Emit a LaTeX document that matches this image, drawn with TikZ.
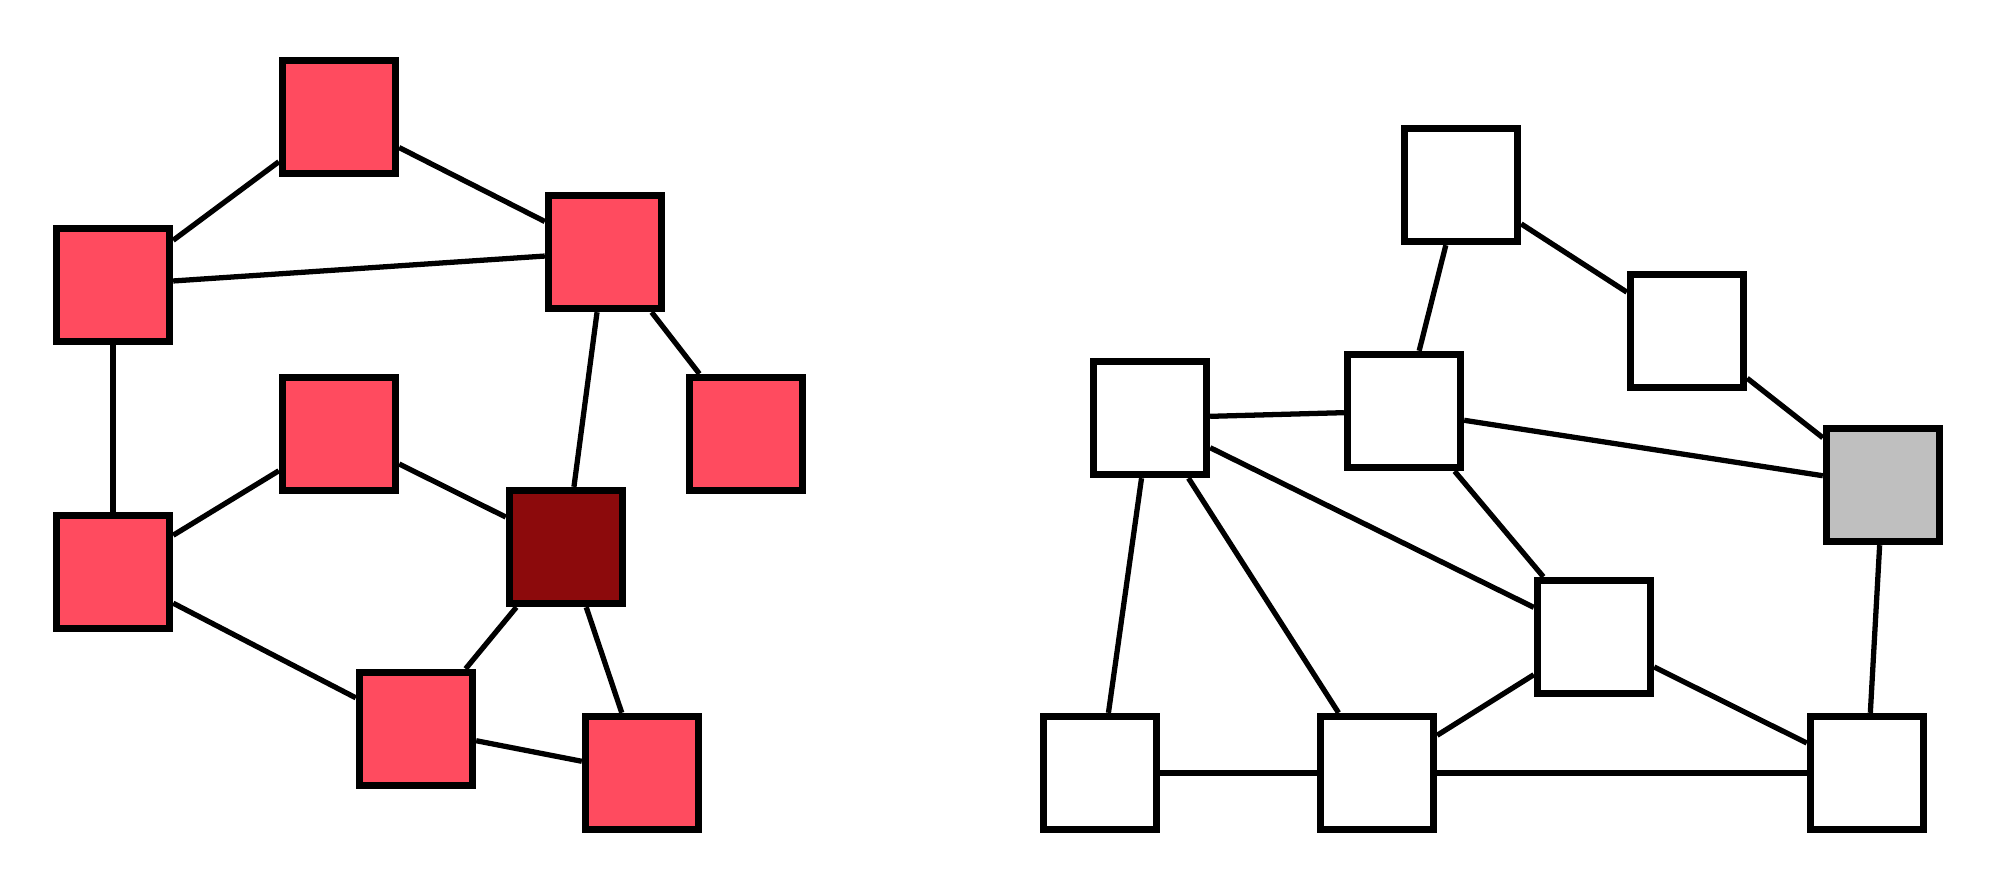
\documentclass[tikz,border=0pt]{standalone}
\usepackage{tikz}
\definecolor{nred}{RGB}{255,75,95}
\definecolor{dred}{RGB}{140,10,12}
\definecolor{ngray}{RGB}{191,191,191}
\tikzset{
  lbox/.style={draw=black, line width=2.1pt, fill=nred, minimum width=11.3mm, minimum height=11.3mm, inner sep=0pt, rectangle},
  rbox/.style={draw=black, line width=2.1pt, fill=white, minimum width=11.3mm, minimum height=11.3mm, inner sep=0pt, rectangle},
  edgeln/.style={draw=black, line width=1.5pt}
}
\begin{document}
\begin{tikzpicture}[x=0.1mm, y=-0.1mm]
\useasboundingbox (0,0) rectangle (2000,888);
% left graph
\node[lbox] (A) at (339,117) {};
\node[lbox] (B) at (113,285) {};
\node[lbox] (C) at (605,252) {};
\node[lbox] (D) at (339,434) {};
\node[lbox, fill=dred] (E) at (566,547) {};
\node[lbox] (F) at (746,434) {};
\node[lbox] (G) at (113,572) {};
\node[lbox] (H) at (416,729) {};
\node[lbox] (I) at (642,773) {};
% right graph
\node[rbox] (K) at (1461,185) {};
\node[rbox] (L) at (1150,418) {};
\node[rbox] (M) at (1404,411) {};
\node[rbox] (N) at (1687,331) {};
\node[rbox, fill=ngray] (O) at (1883,485) {};
\node[rbox] (P) at (1594,637) {};
\node[rbox] (Q) at (1100,773) {};
\node[rbox] (R) at (1377,773) {};
\node[rbox] (S) at (1867,773) {};
% left edges
\path[edgeln] (A) -- (B);
\path[edgeln] (A) -- (C);
\path[edgeln] (B) -- (C);
\path[edgeln] (B) -- (G);
\path[edgeln] (C) -- (E);
\path[edgeln] (C) -- (F);
\path[edgeln] (D) -- (G);
\path[edgeln] (D) -- (E);
\path[edgeln] (G) -- (H);
\path[edgeln] (E) -- (H);
\path[edgeln] (E) -- (I);
\path[edgeln] (H) -- (I);
% right edges
\path[edgeln] (K) -- (M);
\path[edgeln] (K) -- (N);
\path[edgeln] (L) -- (M);
\path[edgeln] (M) -- (O);
\path[edgeln] (L) -- (Q);
\path[edgeln] (L) -- (R);
\path[edgeln] (L) -- (P);
\path[edgeln] (M) -- (P);
\path[edgeln] (R) -- (P);
\path[edgeln] (Q) -- (R);
\path[edgeln] (R) -- (S);
\path[edgeln] (N) -- (O);
\path[edgeln] (O) -- (S);
\path[edgeln] (P) -- (S);
\end{tikzpicture}
\end{document}
